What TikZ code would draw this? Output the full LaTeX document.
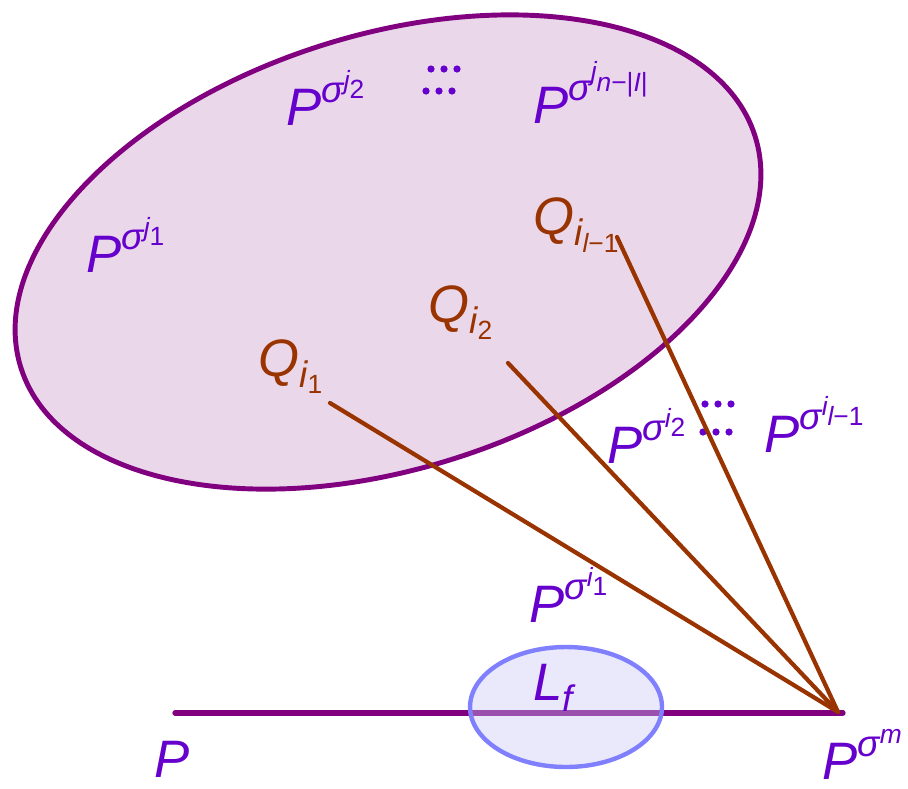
\documentclass[tikz,border=0pt]{standalone}
\usepackage{amsmath}
\usepackage{fontspec}
\setmainfont{Liberation Sans}
\usetikzlibrary{positioning}
\definecolor{setpurple}{RGB}{128,0,128}
\definecolor{setfill}{RGB}{234,216,234}
\definecolor{labviolet}{RGB}{102,0,204}
\definecolor{qbrown}{RGB}{153,51,0}
\definecolor{lfblue}{RGB}{128,128,255}
\definecolor{lffill}{RGB}{200,200,245}
\newcommand{\mi}[1]{\text{\itshape #1}}
\newcommand{\mn}[1]{\text{#1}}
\begin{document}
\begin{tikzpicture}[
  x=0.02cm, y=-0.02cm,
  lbl/.style={anchor=base west, inner sep=0pt, text=labviolet, font=\fontsize{30}{36}\selectfont},
  qlbl/.style={lbl, text=qbrown},
  ray/.style={draw=qbrown, line width=2.4pt, line cap=round}
]
\useasboundingbox (0,0) rectangle (908,788);
% the big set
\draw[setpurple, fill=setfill, line width=2.8pt, rotate around={17.5:(388,252)}]
  (388,252) ellipse [x radius=7.7cm, y radius=4.34cm];
% the line and L_f
\coordinate (pleft) at (175,713);
\coordinate (pright) at (843,713);
\coordinate (apex) at (838,712);
\draw[setpurple, line width=3pt, line cap=round] (pleft) -- (pright);
\draw[lfblue, fill=lffill, fill opacity=0.4, line width=2.5pt] (566,707) ellipse [x radius=1.92cm, y radius=1.2cm];
% labels
\node[lbl] (pj1) at (86,272) {$\mi{P}^{\mi{σ}^{\mi{j}_{\mn{1}}}}$};
\node[lbl] (pj2) at (286,125) {$\mi{P}^{\mi{σ}^{\mi{j}_{\mn{2}}}}$};
\node[lbl] (pjn) at (533,123) {$\mi{P}^{\mi{σ}^{\mi{j}_{\mi{n}\mn{−|}\mi{I}\mn{|}}}}$};
\node[qlbl] (qi1) at (258,376) {$\mi{Q}_{\mi{i}_{\mn{1}}}$};
\node[qlbl] (qi2) at (428,322) {$\mi{Q}_{\mi{i}_{\mn{2}}}$};
\node[qlbl] (qil) at (533,234) {$\mi{Q}_{\mi{i}_{\mi{l}\mn{−1}}}$};
\node[lbl] (pi2) at (607,463) {$\mi{P}^{\mi{σ}^{\mi{i}_{\mn{2}}}}$};
\node[lbl] (pil) at (764,452) {$\mi{P}^{\mi{σ}^{\mi{i}_{\mi{l}\mn{−1}}}}$};
\node[lbl] (pi1) at (529,622) {$\mi{P}^{\mi{σ}^{\mi{i}_{\mn{1}}}}$};
\node[lbl] (lf) at (533,700) {$\mi{L}_{\mi{f}}$};
\node[lbl] (p) at (154,777) {$\mi{P}$};
\node[lbl] (pm) at (822,779) {$\mi{P}^{\mi{σ}^{\mi{m}}}$};
% dots
\foreach \dx in {0,13,26} {
  \fill[labviolet] (431+\dx,69) circle [radius=3.6];
  \fill[labviolet] (426+\dx,91) circle [radius=3.6];
  \fill[labviolet] (705+\dx,404) circle [radius=3.6];
  \fill[labviolet] (703+\dx,432) circle [radius=3.6];
}
% rays
\coordinate (q1end) at (330,403);
\coordinate (q2end) at (508,363);
\coordinate (qlend) at (617,237);
\draw[ray] (q1end) -- (apex);
\draw[ray] (q2end) -- (apex);
\draw[ray] (qlend) -- (apex);
\end{tikzpicture}
\end{document}
